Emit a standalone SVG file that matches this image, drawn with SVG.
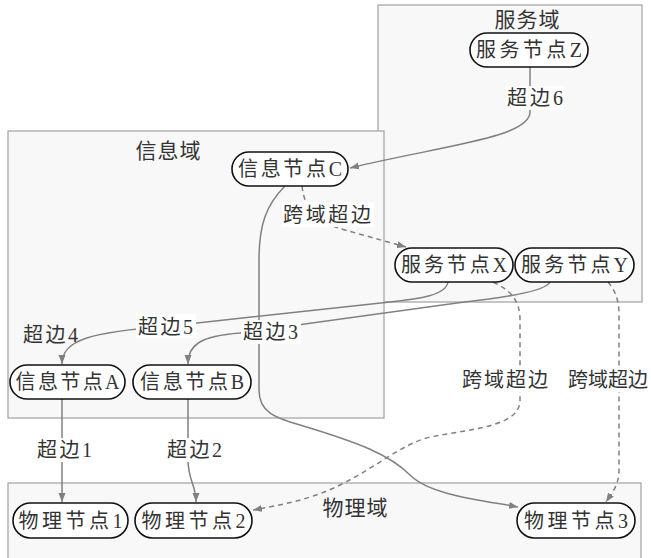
<svg xmlns="http://www.w3.org/2000/svg" width="651" height="558" viewBox="0 0 651 558">
<style>
.dom{fill:#f8f8f8;stroke:#a8a8a8;stroke-width:1.3}
.node rect{fill:#fff;stroke:#111;stroke-width:1.6}
text{font-family:"Liberation Serif","Noto Sans CJK SC",serif;fill:#333;font-size:20px}
.nt{text-anchor:middle}
.dl{font-size:21px;text-anchor:middle}
.el{font-size:20px}
.lb{fill:#fff;stroke:none}
.e{fill:none;stroke:#808080;stroke-width:1.5}
.d{stroke-dasharray:5,4}
</style>
<defs>
<marker id="ah" markerUnits="userSpaceOnUse" markerWidth="10" markerHeight="8" refX="9" refY="4" orient="auto">
<path d="M0,0.5 L9,4 L0,7.5 Z" fill="#808080"/>
</marker>
</defs>
<rect width="651" height="558" fill="#fff"/>
<g id="domains">
<rect class="dom" x="378" y="5" width="264" height="297"/>
<rect class="dom" x="8" y="131" width="376" height="287"/>
<rect class="dom" x="8" y="483" width="633" height="80"/>
<text class="dl" x="527" y="27" textLength="65">服务域</text>
<text class="dl" x="168" y="158" textLength="65">信息域</text>
<text class="dl" x="355" y="515" textLength="65">物理域</text>
</g>
<g id="connectors">
<path class="e" d="M530,67 V112 C530,138 440,146 350,168" marker-end="url(#ah)"/>
<path class="e d" d="M302,186 C305,212 318,222 345,230 L406,247" marker-end="url(#ah)"/>
<path class="e" d="M285,186 C266,205 259,225 259,260 L259,390 C259,412 275,418 300,425 C360,443 390,455 410,475 C430,495 480,500 518,507" marker-end="url(#ah)"/>
<path class="e d" d="M493,282 C510,290 520,300 520,320 L520,400 C520,425 480,428 430,437 C400,445 380,465 340,485 C310,500 280,505 253,510" marker-end="url(#ah)"/>
<path class="e d" d="M608,282 C615,290 619,300 619,315 L619,470 C619,485 612,493 606,502" marker-end="url(#ah)"/>
<path class="e" d="M448,282 C446,295 420,299 390,302 L170,326 C90,332 62,340 62,364" marker-end="url(#ah)"/>
<path class="e" d="M550,282 C545,292 500,298 457,303 L240,333 C200,336 188,345 188,364" marker-end="url(#ah)"/>
<path class="e" d="M62,399 V502" marker-end="url(#ah)"/>
<path class="e" d="M188,399 L188,460 C188,480 196,485 196,502" marker-end="url(#ah)"/>
</g>
<g id="edge-labels">
<rect class="lb" x="506" y="86" width="58" height="24"/>
<text class="el" x="507" y="105" textLength="56">超边6</text>
<rect class="lb" x="282" y="202" width="92" height="25"/>
<text class="el" x="283" y="222" textLength="88">跨域超边</text>
<rect class="lb" x="136" y="314" width="60" height="24"/>
<text class="el" x="138" y="334" textLength="55">超边5</text>
<rect class="lb" x="241" y="320" width="60" height="24"/>
<text class="el" x="243" y="339" textLength="55">超边3</text>
<text class="el" x="23" y="342" textLength="55">超边4</text>
<rect class="lb" x="460" y="367" width="92" height="25"/>
<text class="el" x="462" y="387" textLength="86">跨域超边</text>
<rect class="lb" x="566" y="367" width="85" height="25"/>
<text class="el" x="568" y="387" textLength="80">跨域超边</text>
<rect class="lb" x="35" y="438" width="60" height="24"/>
<text class="el" x="37" y="457" textLength="55">超边1</text>
<rect class="lb" x="165" y="438" width="60" height="24"/>
<text class="el" x="167" y="457" textLength="55">超边2</text>
</g>
<g id="nodeZ" class="node"><rect x="470" y="33" width="118" height="34" rx="17"/><text class="nt" x="529" y="57" textLength="106">服务节点Z</text></g>
<g id="nodeC" class="node"><rect x="232" y="152" width="116" height="34" rx="17"/><text class="nt" x="290" y="176" textLength="104">信息节点C</text></g>
<g id="nodeX" class="node"><rect x="395" y="248" width="118" height="34" rx="17"/><text class="nt" x="454" y="272" textLength="106">服务节点X</text></g>
<g id="nodeY" class="node"><rect x="515" y="248" width="119" height="34" rx="17"/><text class="nt" x="574.5" y="272" textLength="107">服务节点Y</text></g>
<g id="nodeA" class="node"><rect x="10" y="365" width="115" height="34" rx="17"/><text class="nt" x="67.5" y="389" textLength="104">信息节点A</text></g>
<g id="nodeB" class="node"><rect x="133" y="365" width="118" height="34" rx="17"/><text class="nt" x="192" y="389" textLength="104">信息节点B</text></g>
<g id="node1" class="node"><rect x="13" y="503" width="115" height="35" rx="17.5"/><text class="nt" x="70.5" y="528" textLength="104">物理节点1</text></g>
<g id="node2" class="node"><rect x="135" y="503" width="117" height="35" rx="17.5"/><text class="nt" x="193.5" y="528" textLength="104">物理节点2</text></g>
<g id="node3" class="node"><rect x="517" y="503" width="118" height="35" rx="17.5"/><text class="nt" x="576" y="528" textLength="104">物理节点3</text></g>
</svg>
